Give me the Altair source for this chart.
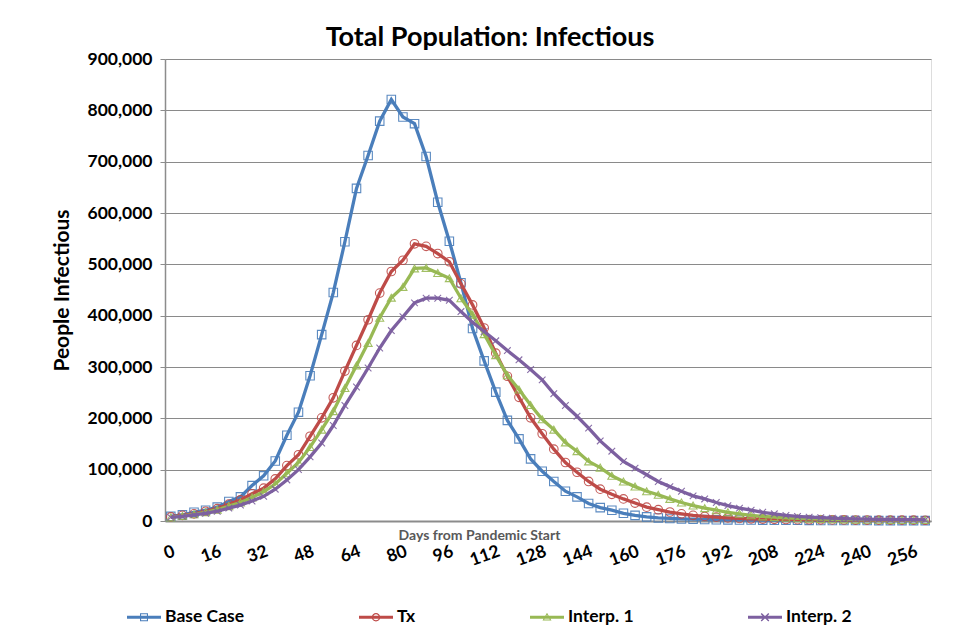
import altair as alt
import pandas as pd

# Days from pandemic start (one point every 4 days)
days = list(range(0, 264, 4))

# People infectious, in thousands
base_case = [9, 12, 17, 21, 27, 38, 47, 69, 88, 117,
             167, 212, 283, 363, 445, 544, 648, 712, 779, 821,
             787, 774, 710, 621, 545, 464, 375, 312, 251, 196,
             160, 121, 97, 77, 58, 47, 34, 26, 21, 15,
             11, 8, 6, 5, 4, 3.5, 3, 2.5, 2.2, 2,
             1.8, 1.6, 1.5, 1.4, 1.3, 1.2, 1.1, 1, 1, 0.9,
             0.9, 0.8, 0.8, 0.7, 0.7, 0.7]
tx = [8, 11, 14, 19, 24, 33, 41, 53, 64, 82,
      108, 129, 165, 201, 240, 292, 342, 392, 444, 486,
      508, 540, 535, 521, 505, 462, 421, 376, 327, 282,
      241, 201, 170, 140, 114, 95, 77, 62, 52, 43,
      35, 27, 22, 17.5, 14, 11, 9, 7.5, 6, 5,
      4.3, 3.7, 3.2, 2.9, 2.6, 2.4, 2.2, 2.1, 2, 1.9,
      1.8, 1.7, 1.7, 1.6, 1.6, 1.5]
interp1 = [7, 10, 13, 17, 22, 29, 36, 46, 57, 72,
           93, 114, 144, 178, 214, 259, 303, 347, 396, 435,
           456, 492, 493, 483, 473, 434, 402, 364, 323, 284,
           256, 226, 198, 178, 153, 136, 116, 104, 88, 77,
           67, 58, 51, 43, 36, 30, 25, 21, 17, 14,
           11, 9, 7.5, 6.3, 5.3, 4.5, 3.9, 3.4, 3.0, 2.7,
           2.5, 2.3, 2.1, 2.0, 1.9, 1.8]
interp2 = [7, 9, 12, 15, 19, 25, 31, 39, 48, 62,
           80, 100, 125, 152, 186, 225, 261, 298, 337, 371,
           398, 425, 434, 434, 430, 408, 387, 369, 351, 332,
           314, 295, 275, 248, 225, 204, 181, 156, 136, 116,
           103, 90, 77, 67, 58, 49, 43, 36, 30, 25,
           21, 17, 14, 11, 9, 7.5, 6.5, 5.5, 4.7, 4.1,
           3.6, 3.2, 2.9, 2.7, 2.5, 2.3]

series_names = ["Base Case", "Tx", "Interp. 1", "Interp. 2"]
line_colors = ["#4A7EBB", "#BE4B48", "#98B954", "#7D60A0"]
marker_shapes = ["square", "circle", "triangle-up", "M-1,-1L1,1M-1,1L1,-1"]
marker_sizes = [72, 74, 64, 44]
x_ticks = list(range(0, 257, 16))
y_ticks = list(range(0, 900001, 100000))

# legend symbols: line segment + hollow marker (filled paths, 1 unit = 10 px)
LINE = "M-1.7 -0.15H1.7V0.15H-1.7Z "
legend_paths = [
    LINE + "M-0.4 -0.4H0.4V0.4H-0.4Z M-0.29 -0.29V0.29H0.29V-0.29Z",
    LINE + "M0.42 0A0.42 0.42 0 1 1 -0.42 0A0.42 0.42 0 1 1 0.42 0Z "
    "M0.31 0A0.31 0.31 0 1 0 -0.31 0A0.31 0.31 0 1 0 0.31 0Z",
    LINE + "M0 -0.45L0.45 0.33L-0.45 0.33Z M0 -0.26L-0.28 0.23L0.28 0.23Z",
    LINE + "M-0.43 -0.33L-0.33 -0.43L0.43 0.33L0.33 0.43Z "
    "M0.33 -0.43L0.43 -0.33L-0.33 0.43L-0.43 0.33Z",
]

rows = []
for name, vals in zip(series_names, [base_case, tx, interp1, interp2]):
    for d, v in zip(days, vals):
        rows.append({"day": d, "series": name, "value": v * 1000})
df = pd.DataFrame(rows)

FONT = "Lato"

x_enc = alt.X(
    "day:Q",
    scale=alt.Scale(domain=[-2, 262], nice=False, zero=False),
    axis=alt.Axis(
        values=x_ticks, title="Days from Pandemic Start", labelAngle=340,
        labelFontSize=17.5, labelFontWeight="bold", labelColor="black", labelFont=FONT,
        labelPadding=21, ticks=False, grid=False,
        domainColor="#8C8C8C", domainWidth=2,
        titleFontSize=14, titleFontWeight="bold", titleColor="#595959", titleFont=FONT,
        titleX=314, titleY=14, titleAlign="center", titleBaseline="middle",
        labelOverlap=False,
    ),
)
y_enc = alt.Y(
    "value:Q",
    scale=alt.Scale(domain=[0, 900000], nice=False),
    axis=alt.Axis(
        values=y_ticks, format=",.0f", title="People Infectious",
        labelFontSize=17.5, labelFontWeight="bold", labelColor="black", labelFont=FONT,
        labelPadding=8, tickSize=5, tickColor="#8C8C8C",
        domainColor="#8C8C8C", domainWidth=1.5,
        grid=True, gridColor="#8A8A8A", gridWidth=1.2,
        titleFontSize=21, titleFontWeight="bold", titleColor="black", titleFont=FONT,
        titlePadding=15,
    ),
)

base = alt.Chart(df)
layers = []
for name, col, shp, sz in zip(series_names, line_colors, marker_shapes, marker_sizes):
    sub = base.transform_filter(alt.datum.series == name)
    layers.append(sub.mark_line(color=col, strokeWidth=3.3).encode(x=x_enc, y=y_enc))
    layers.append(
        sub.mark_point(shape=shp, filled=False, size=sz, strokeWidth=1.1, color=col, opacity=0.9)
        .encode(x=x_enc, y=y_enc)
    )

legend_params = dict(
    orient="none", legendX=-31, legendY=548, direction="horizontal", columns=4,
    columnPadding=114, title=None, labelFont=FONT, labelFontSize=17.5,
    labelFontWeight="bold", labelColor="black", symbolSize=400,
    symbolStrokeWidth=0, labelOffset=11, padding=0,
)
legend_layer = base.transform_filter("datum.day < -100").mark_point(
    filled=True, size=400, strokeWidth=0, opacity=1
).encode(
    x=x_enc, y=y_enc,
    color=alt.Color("series:N", scale=alt.Scale(domain=series_names, range=line_colors),
                    legend=alt.Legend(**legend_params)),
    shape=alt.Shape("series:N", scale=alt.Scale(domain=series_names, range=legend_paths),
                    legend=alt.Legend(**legend_params)),
)
layers.append(legend_layer)

chart = alt.layer(*layers).properties(
    width=766, height=462,
    title=alt.Title("Total Population: Infectious", fontSize=27, font=FONT,
                    fontWeight="bold", color="black", anchor="middle",
                    frame="group", dx=-58, offset=-2),
    padding={"left": 157, "top": 51, "right": 17, "bottom": 106},
    autosize=alt.AutoSizeParams(type="none"),
).configure_view(stroke=None).configure(background="white")

chart.save("out.html", embed_options={"renderer": "svg", "actions": False})
